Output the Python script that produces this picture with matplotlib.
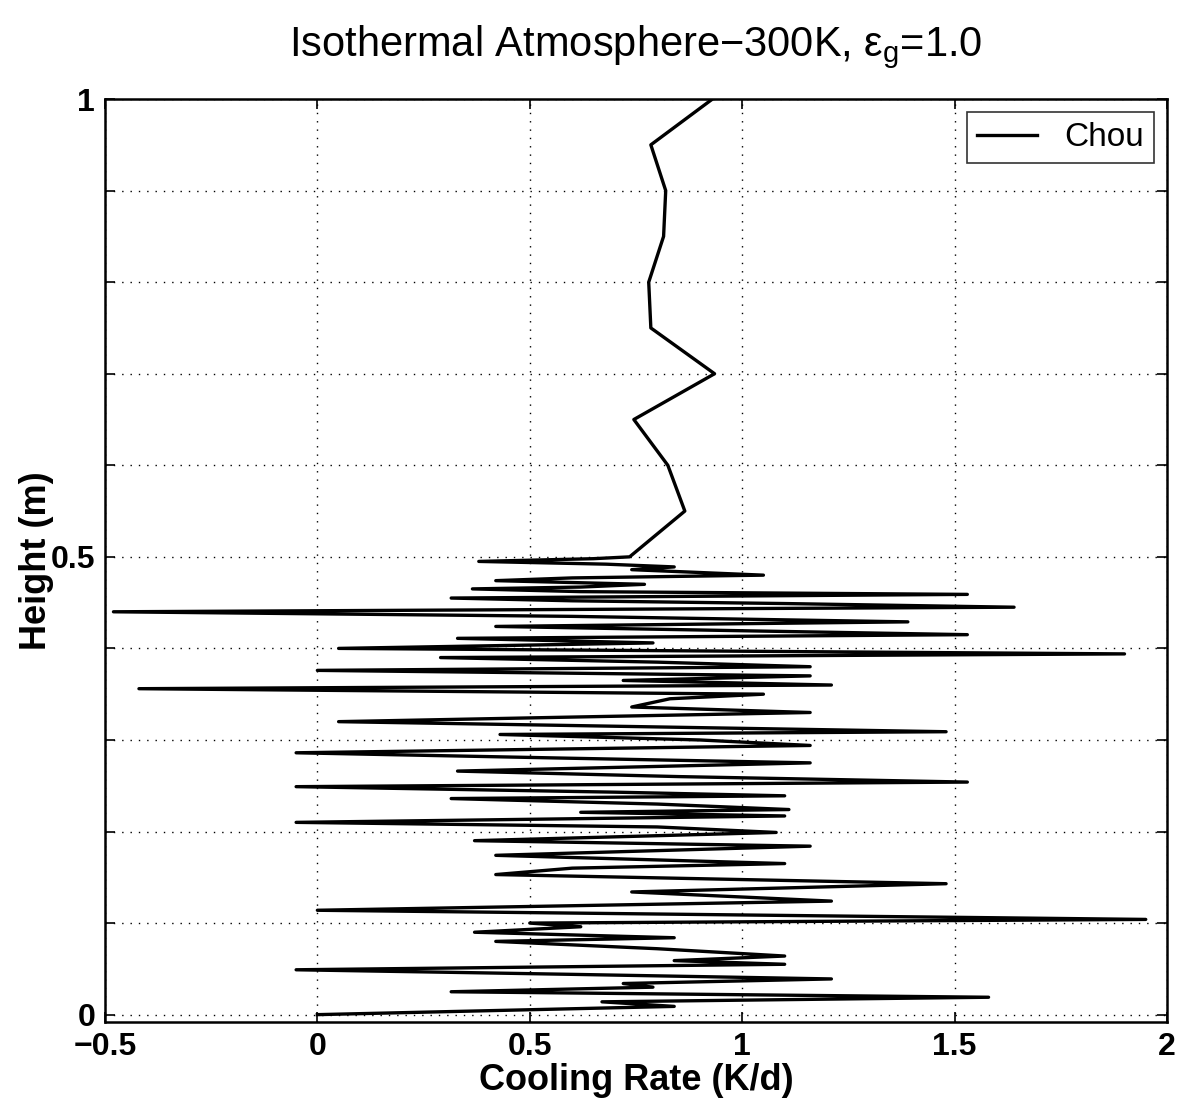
import numpy as np
import matplotlib
matplotlib.use('Agg')
import matplotlib.pyplot as plt

plt.rcParams['font.family'] = ['Liberation Sans', 'DejaVu Sans']
plt.rcParams['mathtext.fontset'] = 'custom'
plt.rcParams['mathtext.rm'] = 'Liberation Sans'
plt.rcParams['mathtext.it'] = 'Liberation Sans'

# Chou profile: height (m) and cooling rate (K/d)
height = [1.00, 0.95, 0.90, 0.85, 0.80, 0.75, 0.70, 0.65, 0.60, 0.55, 0.50,
          0.498, 0.495, 0.492, 0.489, 0.486, 0.480, 0.477, 0.474, 0.470, 0.467,
          0.465, 0.462, 0.459, 0.455, 0.452, 0.449,
          0.445, 0.440, 0.435, 0.429, 0.424, 0.415, 0.411, 0.406, 0.400, 0.394, 0.390,
          0.385, 0.380, 0.376, 0.370, 0.365, 0.360, 0.356, 0.350, 0.345, 0.336, 0.330,
          0.325, 0.320, 0.309, 0.306, 0.300, 0.294, 0.286, 0.280, 0.275, 0.266, 0.260,
          0.254, 0.249, 0.243, 0.239,
          0.236, 0.230, 0.224, 0.221, 0.217, 0.210, 0.205, 0.199, 0.190, 0.184, 0.174, 0.165,
          0.160, 0.153, 0.143, 0.134, 0.124, 0.114, 0.104, 0.100, 0.096, 0.090, 0.084,
          0.080, 0.072, 0.064, 0.059, 0.055, 0.049, 0.044, 0.039, 0.034, 0.030, 0.025, 0.019,
          0.014, 0.009, 0.000]
cooling = [0.93, 0.785, 0.82, 0.815, 0.78, 0.785, 0.935, 0.745, 0.825, 0.865, 0.735,
           0.65, 0.38, 0.68, 0.84, 0.74, 1.05, 0.60, 0.42, 0.77, 0.62,
           0.365, 0.62, 1.53, 0.315, 0.60, 1.10,
           1.64, -0.48, 0.60, 1.39, 0.42, 1.53, 0.33, 0.79, 0.05, 1.90, 0.29,
           0.80, 1.16, 0.00, 1.16, 0.72, 1.21, -0.42, 1.05, 0.83, 0.74, 1.16,
           0.60, 0.05, 1.48, 0.43, 0.90, 1.16, -0.05, 0.60, 1.16, 0.33, 0.85,
           1.53, -0.05, 0.70, 1.10,
           0.315, 0.80, 1.11, 0.62, 1.10, -0.05, 0.80, 1.08, 0.37, 1.16, 0.42, 1.10,
           0.60, 0.42, 1.48, 0.74, 1.21, 0.00, 1.95, 0.50, 0.62, 0.37, 0.84,
           0.42, 0.80, 1.10, 0.84, 1.10, -0.05, 0.60, 1.21, 0.72, 0.79, 0.315, 1.58,
           0.67, 0.84, 0.00]

xticks = [-0.5, 0, 0.5, 1, 1.5, 2]
xticklabels = ['\u22120.5', '0', '0.5', '1', '1.5', '2']
yticks = [round(0.1 * i, 1) for i in range(11)]
yticklabels = ['0', '', '', '', '', '0.5', '', '', '', '', '1']

fig = plt.figure(figsize=(11.82, 11.18), dpi=100)
ax = fig.add_axes([0.0888, 0.0859, 0.8985, 0.8255])

ax.plot(cooling, height, color='black', linewidth=2.4, label='Chou')

ax.set_xlim(-0.5, 2.0)
ax.set_ylim(-0.008, 1.0)
ax.set_xticks(xticks)
ax.set_xticklabels(xticklabels)
ax.set_yticks(yticks)
ax.set_yticklabels(yticklabels)
for lab in ax.get_xticklabels() + ax.get_yticklabels():
    lab.set_fontweight('bold')
    lab.set_fontsize(23)
ax.tick_params(direction='in', length=7, width=1.2, top=True, right=True)
ax.tick_params(axis='x', pad=7)
ax.tick_params(axis='y', pad=7)

ax.grid(True, color='black', linestyle=(0, (1, 5)), linewidth=1.0)
for s in ax.spines.values():
    s.set_linewidth(1.8)

ax.set_xlabel('Cooling Rate (K/d)', fontsize=26, fontweight='bold', labelpad=1)
ax.set_ylabel('Height (m)', fontsize=26, fontweight='bold', labelpad=-2)
ax.set_title(r'Isothermal Atmosphere$-$300K, $\varepsilon_g$=1.0', fontsize=30, pad=31)

leg = ax.legend(loc='upper right', fontsize=24, frameon=True, fancybox=False,
                handlelength=1.8, borderpad=0.3, borderaxespad=0.4)
leg.get_frame().set_edgecolor('black')
leg.get_frame().set_linewidth(1.2)

fig.savefig('out.png', dpi=100)
